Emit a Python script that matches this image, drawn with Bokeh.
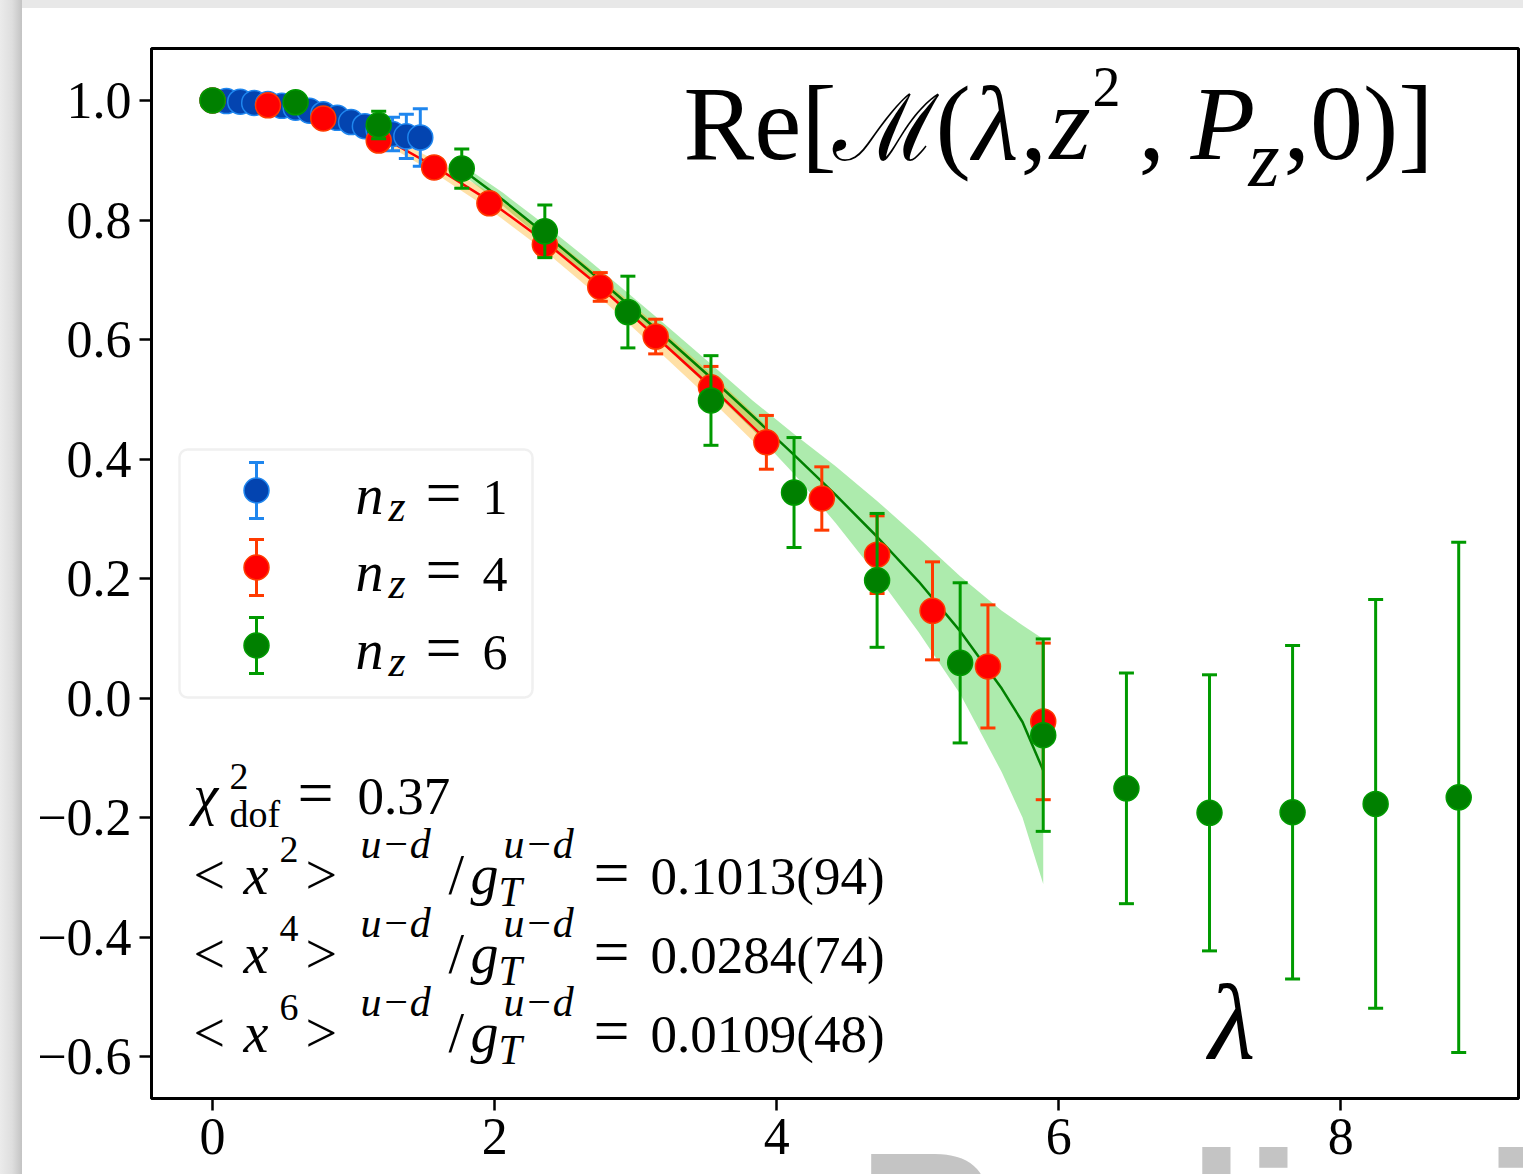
from bokeh.plotting import figure
from bokeh.models import Range1d, FixedTicker, Label, BoxAnnotation, Spacer, ColumnDataSource
from bokeh.layouts import row, column
from bokeh.embed import file_html
from bokeh.resources import INLINE
from bokeh.core.properties import value

# ---------------- data ----------------
# n_z = 1
lam_nz1 = [0.000, 0.098, 0.196, 0.295, 0.393, 0.491, 0.589, 0.687,
           0.785, 0.884, 0.982, 1.080, 1.178, 1.276, 1.374, 1.473]
re_nz1 = [1.000, 0.999, 0.998, 0.996, 0.994, 0.991, 0.988, 0.983,
          0.977, 0.971, 0.964, 0.957, 0.950, 0.944, 0.940, 0.938]
err_nz1 = [0.000, 0.001, 0.002, 0.002, 0.003, 0.004, 0.005, 0.006,
           0.007, 0.009, 0.011, 0.014, 0.020, 0.028, 0.037, 0.048]

# n_z = 4
lam_nz4 = [0.000, 0.393, 0.785, 1.178, 1.571, 1.963, 2.356, 2.749,
           3.142, 3.534, 3.927, 4.320, 4.712, 5.105, 5.498, 5.890]
re_nz4 = [1.000, 0.992, 0.970, 0.933, 0.888, 0.828, 0.759, 0.688,
          0.605, 0.520, 0.428, 0.334, 0.240, 0.146, 0.053, -0.039]
err_nz4 = [0.000, 0.003, 0.005, 0.008, 0.011, 0.014, 0.019, 0.024,
           0.029, 0.035, 0.045, 0.053, 0.065, 0.082, 0.103, 0.131]

# n_z = 6
lam_nz6 = [0.000, 0.589, 1.178, 1.767, 2.356, 2.945, 3.534, 4.123,
           4.712, 5.301, 5.890, 6.480, 7.069, 7.658, 8.247, 8.836]
re_nz6 = [1.000, 0.997, 0.959, 0.886, 0.781, 0.646, 0.498, 0.344,
          0.197, 0.059, -0.062, -0.151, -0.192, -0.191, -0.177, -0.166]
err_nz6 = [0.000, 0.006, 0.023, 0.033, 0.044, 0.060, 0.075, 0.092,
           0.112, 0.134, 0.161, 0.193, 0.231, 0.279, 0.342, 0.427]

# fit result for n_z = 4 (central curve and error band)
fit4_lam = [1.178, 1.571, 1.963, 2.356, 2.749, 3.142, 3.534, 3.927]
fit4_mid = [0.942, 0.890, 0.832, 0.764, 0.688, 0.605, 0.521, 0.432]
fit4_lo = [0.934, 0.879, 0.818, 0.748, 0.670, 0.585, 0.499, 0.408]
fit4_hi = [0.950, 0.901, 0.846, 0.780, 0.706, 0.625, 0.543, 0.456]

# fit result for n_z = 6 (central curve and error band)
fit6_lam = [1.767, 2.062, 2.356, 2.651, 2.945, 3.240, 3.534, 3.829,
            4.123, 4.418, 4.712, 5.007, 5.301, 5.596, 5.743, 5.890]
fit6_mid = [0.885, 0.833, 0.777, 0.719, 0.659, 0.598, 0.536, 0.472,
            0.407, 0.340, 0.270, 0.195, 0.112, 0.016, -0.040, -0.121]
fit6_lo = [0.877, 0.823, 0.765, 0.706, 0.645, 0.582, 0.517, 0.449,
           0.375, 0.293, 0.205, 0.110, 0.007, -0.124, -0.200, -0.311]
fit6_hi = [0.893, 0.845, 0.792, 0.736, 0.678, 0.619, 0.559, 0.498,
           0.442, 0.388, 0.330, 0.268, 0.204, 0.146, 0.122, 0.099]

x_tick_values = [0, 2, 4, 6, 8]
x_tick_labels = ["0", "2", "4", "6", "8"]
y_tick_values = [-0.6, -0.4, -0.2, 0.0, 0.2, 0.4, 0.6, 0.8, 1.0]
y_tick_labels = ["\u22120.6", "\u22120.4", "\u22120.2", "0.0", "0.2", "0.4", "0.6", "0.8", "1.0"]

legend_labels = ["1", "4", "6"]
fit_powers = ["2", "4", "6"]
fit_values = ["0.1013(94)", "0.0284(74)", "0.0109(48)"]
chi2_value = "0.37"

# ---------------- geometry & style ----------------
SERIF = "Liberation Serif"
X_LO, X_HI = -0.433, 9.26
Y_LO, Y_HI = -0.670, 1.087
FRAME_LEFT, FRAME_TOP = 151, 48        # page position of the plotting area
FRAME_W, FRAME_H = 1367, 1050
BASELINE_SHIFT = 0.33                  # label anchor vs. drawn baseline, in em

BLUE, BLUE_BAR = "#0344b0", "#1f86ee"
RED, RED_BAR = "#ff0000", "#ff3a00"
GREEN, GREEN_BAR = "#008000", "#009a00"


def at_x(px):
    return X_LO + (px - FRAME_LEFT) * (X_HI - X_LO) / FRAME_W


def at_y(py):
    return Y_HI - (py - FRAME_TOP) * (Y_HI - Y_LO) / FRAME_H


p = figure(width=1501, height=1166,
           x_range=Range1d(X_LO, X_HI), y_range=Range1d(Y_LO, Y_HI),
           output_backend="svg", toolbar_location=None,
           min_border_left=FRAME_LEFT - 22, min_border_right=5,
           min_border_top=FRAME_TOP - 8, min_border_bottom=76)
p.background_fill_color = "white"
p.border_fill_color = "white"
p.outline_line_color = "black"
p.outline_line_width = 3
p.grid.visible = False

for ax in (p.xaxis, p.yaxis):
    ax.axis_line_width = 3
    ax.major_tick_line_width = 2.5
    ax.major_tick_out = 12
    ax.major_tick_in = 0
    ax.minor_tick_out = 0
    ax.minor_tick_in = 0
    ax.major_label_text_font = SERIF
    ax.major_label_text_font_size = "52px"
    ax.major_label_text_color = "black"
    ax.major_label_standoff = 8

p.xaxis.ticker = FixedTicker(ticks=x_tick_values)
p.xaxis.major_label_overrides = dict(zip(x_tick_values, x_tick_labels))
p.yaxis.ticker = FixedTicker(ticks=y_tick_values)
p.yaxis.major_label_overrides = dict(zip(y_tick_values, y_tick_labels))

# watermark across the lower edge (drawn at guide level so it is not clipped to the frame)
WM_SIZE = 205
p.text(x=[at_x(857)], y=[at_y(1291 - BASELINE_SHIFT * WM_SIZE)], text=["Preliminary"],
       text_font=value("Liberation Sans"), text_font_style="bold",
       text_font_size=value(f"{WM_SIZE}px"), text_color="#c4c4c4",
       text_baseline="alphabetic", level="guide")

# fit bands and curves
p.varea(x=fit6_lam, y1=fit6_lo, y2=fit6_hi, fill_color="limegreen", fill_alpha=0.4)
p.varea(x=fit4_lam, y1=fit4_lo, y2=fit4_hi, fill_color="orange", fill_alpha=0.35)
p.line(fit4_lam, fit4_mid, line_color=RED, line_width=2.5)
p.line(fit6_lam, fit6_mid, line_color=GREEN, line_width=2.5)


def errorbar(lam, val, err, face, bar):
    lo = [v - e for v, e in zip(val, err)]
    hi = [v + e for v, e in zip(val, err)]
    src = ColumnDataSource(dict(x=lam, y=val, lo=lo, hi=hi))
    p.segment(x0="x", y0="lo", x1="x", y1="hi", source=src, line_color=bar, line_width=3)
    p.scatter(x="x", y="lo", source=src, marker="dash", size=15, line_color=bar, line_width=3)
    p.scatter(x="x", y="hi", source=src, marker="dash", size=15, line_color=bar, line_width=3)
    p.scatter(x="x", y="y", source=src, size=25, fill_color=face, line_color=bar, line_width=1.5)


errorbar(lam_nz1, re_nz1, err_nz1, BLUE, BLUE_BAR)
errorbar(lam_nz4, re_nz4, err_nz4, RED, RED_BAR)
errorbar(lam_nz6, re_nz6, err_nz6, GREEN, GREEN_BAR)


def put(text, px, py, size, style="normal", font=SERIF):
    """Place a text run with its baseline at page pixel (px, py)."""
    p.add_layout(Label(x=at_x(px), y=at_y(py - BASELINE_SHIFT * size), text=text,
                       text_font=font, text_font_size=f"{size}px", text_font_style=style,
                       text_color="black", text_baseline="alphabetic"))


# legend
p.add_layout(BoxAnnotation(left=at_x(179), right=at_x(532), top=at_y(449), bottom=at_y(697),
                           fill_color="white", fill_alpha=0.8, line_color="#cccccc",
                           line_width=2.5, border_radius=8, level="underlay"))
key_half = 28 * (Y_HI - Y_LO) / FRAME_H
for (face, bar), label, key_y, base in zip([(BLUE, BLUE_BAR), (RED, RED_BAR), (GREEN, GREEN_BAR)],
                                           legend_labels, [490, 567, 645], [513, 590, 668]):
    errorbar([at_x(256)], [at_y(key_y)], [key_half], face, bar)
    put("n", 355, base, 56, "italic")
    put("z", 388, base + 8, 44, "italic")
    put("=", 425, base, 64)
    put(label, 482, base, 50)

# title
put("Re[", 683, 158, 106)
put("\u2133", 832, 158, 92, "normal", "DejaVu Serif")
put("(", 935, 158, 106)
put("\u03bb", 972, 158, 106, "italic")
put(",", 1020, 158, 106)
put("z", 1049, 158, 106, "italic")
put("2", 1092, 105, 56)
put(",", 1138, 158, 106)
put("P", 1190, 158, 106, "italic")
put("z", 1248, 185, 80, "italic")
put(",0)]", 1283, 158, 106)

# axis title inside the frame
put("\u03bb", 1208, 1058, 108, "italic")

# fit summary
put("\u03c7", 193, 813, 56, "italic")
put("2", 229, 789, 38)
put("dof", 229, 826, 38)
put("=", 297, 813, 64)
put(chi2_value, 357, 813, 53)
for power, val, base in zip(fit_powers, fit_values, [893, 972, 1051]):
    put("<", 193, base, 56)
    put("x", 243, base, 56, "italic")
    put(power, 279, base - 31, 38)
    put(">", 305, base, 56)
    put("u\u2212d", 360, base - 36, 42, "italic")
    put("/", 448, base, 56)
    put("g", 470, base, 56, "italic")
    put("u\u2212d", 503, base - 36, 42, "italic")
    put("T", 498, base + 12, 42, "italic")
    put("=", 593, base, 64)
    put(val, 650, base, 53)

# page surround
shadow_left = Spacer(width=22, height=1174,
                     styles={"background": "linear-gradient(to right, #ebebeb 0%, #dedede 55%, #c3c3c3 100%)"})
shadow_top = Spacer(width=1501, height=8, styles={"background": "#e8e8e8"})
page = row(shadow_left, column(shadow_top, p))

open("out.html", "w").write(file_html(page, INLINE))
